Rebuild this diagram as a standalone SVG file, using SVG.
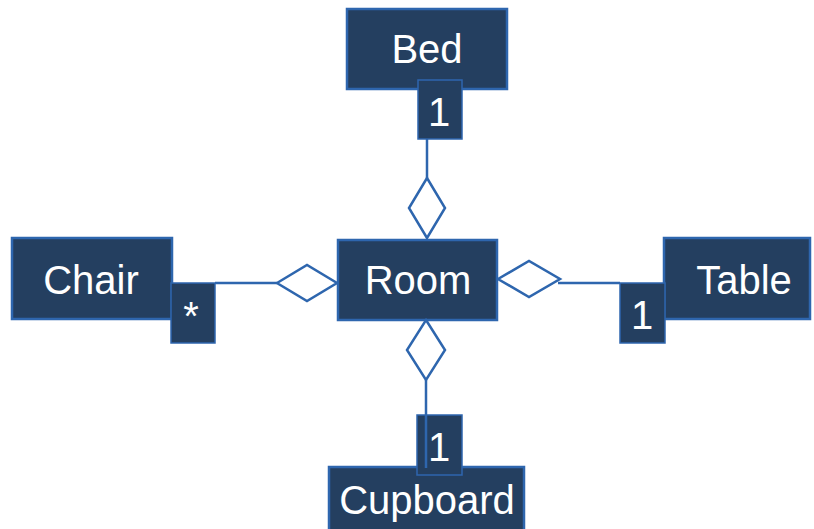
<svg xmlns="http://www.w3.org/2000/svg" width="814" height="529" viewBox="0 0 814 529">
<style>
.box{fill:#243f60;stroke:#2e66ae;stroke-width:2.5}
.lbl{fill:#243f60;stroke:#2e66ae;stroke-width:1.5}
.t{fill:#fff;font-family:"Liberation Sans",Arial,sans-serif;font-size:40px;text-anchor:middle}
.c{fill:none;stroke:#2e66ae;stroke-width:2.5}
.d{fill:#fff;stroke:#2e66ae;stroke-width:2.5}
</style>
<rect width="814" height="529" fill="#fff"/>
<g id="bed"><rect class="box" x="347" y="9" width="160" height="80"/><text class="t" x="427" y="63">Bed</text></g>
<g id="room"><rect class="box" x="338" y="240" width="159" height="80"/><text class="t" x="418" y="294">Room</text></g>
<g id="chair"><rect class="box" x="12" y="238" width="160" height="81"/><text class="t" x="91" y="294">Chair</text></g>
<g id="table"><rect class="box" x="664" y="238" width="146" height="81"/><text class="t" x="744" y="294">Table</text></g>
<g id="cupboard"><rect class="box" x="329" y="467" width="195" height="70"/><text class="t" x="427" y="514">Cupboard</text></g>
<g id="connectors">
<path class="c" d="M427 139V178"/>
<polygon class="d" points="427,178 445,208 427,238 409,208"/>
<path class="c" d="M215 283H277"/>
<polygon class="d" points="277,283 307,265 337,283 307,301"/>
<path class="c" d="M558 283H620"/>
<polygon class="d" points="498,279 529,261 560,279 529,297"/>
<polygon class="d" points="426,320 445,350 426,380 407,350"/>
</g>
<g id="mult-bed"><rect class="lbl" x="418" y="80" width="44" height="59"/><text class="t" x="439" y="126">1</text></g>
<g id="mult-chair"><rect class="lbl" x="171" y="283" width="44" height="60"/><text class="t" x="191" y="330">*</text></g>
<g id="mult-table"><rect class="lbl" x="620" y="283" width="45" height="60"/><text class="t" x="642" y="329">1</text></g>
<g id="mult-cupboard"><rect class="lbl" x="417" y="415" width="45" height="60"/><text class="t" x="439" y="461">1</text></g>
<path class="c" d="M426 380V468"/>
</svg>
